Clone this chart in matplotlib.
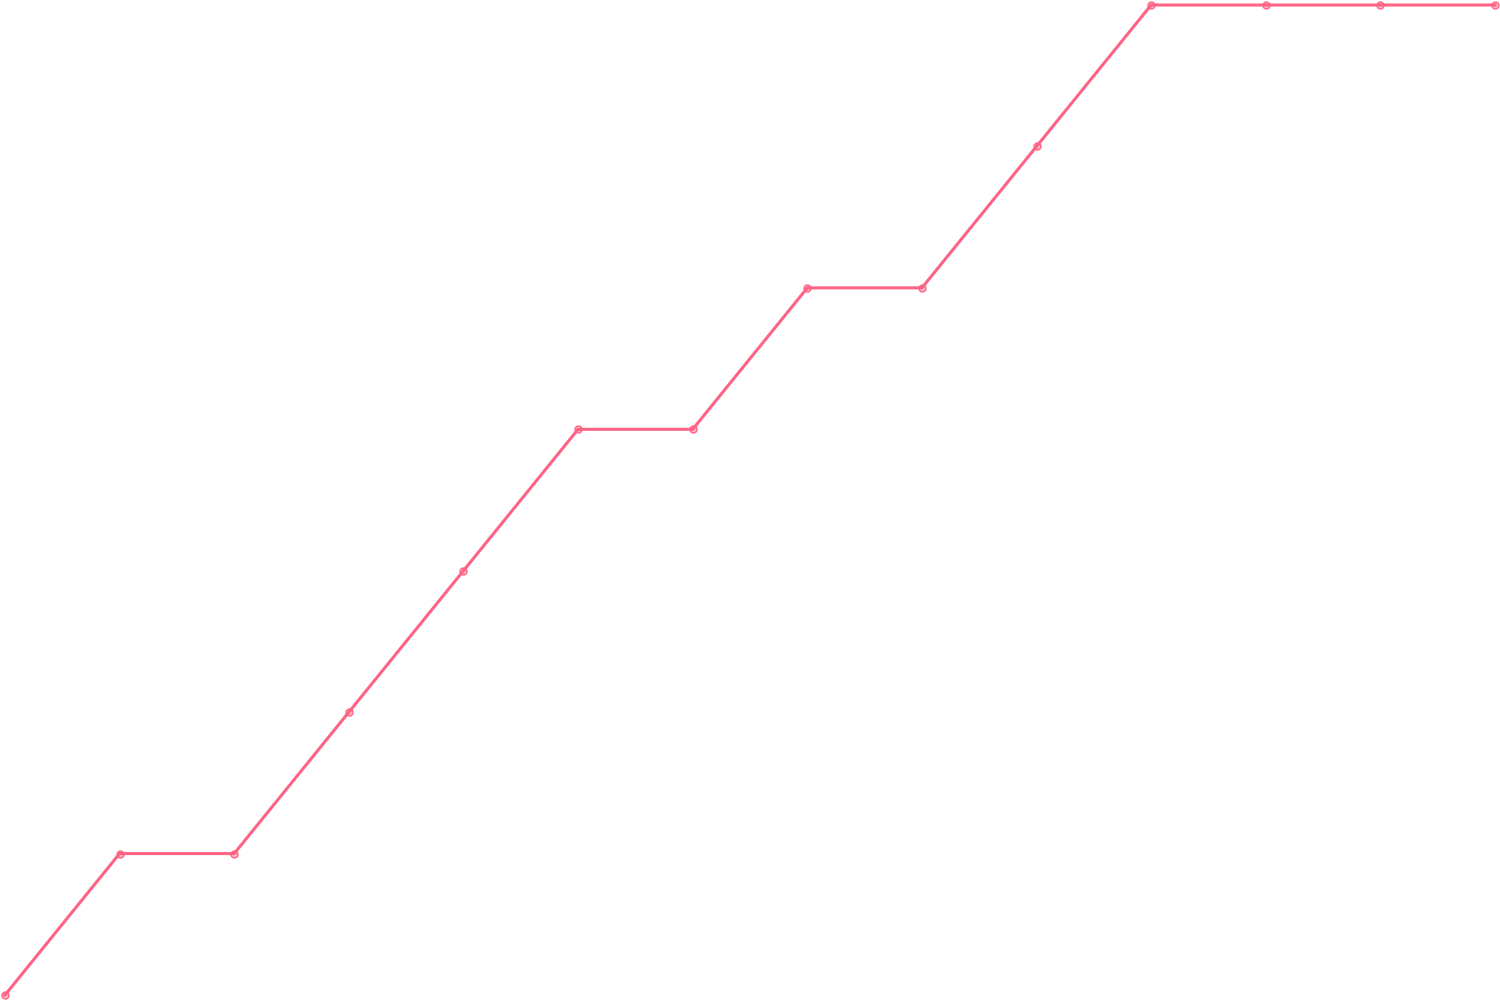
import matplotlib
matplotlib.use("Agg")
import matplotlib.pyplot as plt

# step index and value of each point
steps = list(range(14))
values = [0, 1, 1, 2, 3, 4, 4, 5, 5, 6, 7, 7, 7, 7]

LINE = "#ff6384"

fig = plt.figure(figsize=(15, 10), dpi=100)
ax = fig.add_axes([5 / 1500, 5 / 1000, 1490 / 1500, 990 / 1000])
ax.plot(steps, values, color=LINE, linewidth=2.2, marker="o", markersize=5,
        markerfacecolor=(1.0, 0.39, 0.52, 0.45), markeredgecolor=LINE,
        markeredgewidth=1.0, clip_on=False)
ax.set_xlim(steps[0], steps[-1])
ax.set_ylim(min(values), max(values))
ax.axis("off")

fig.savefig("out.png", dpi=100)
